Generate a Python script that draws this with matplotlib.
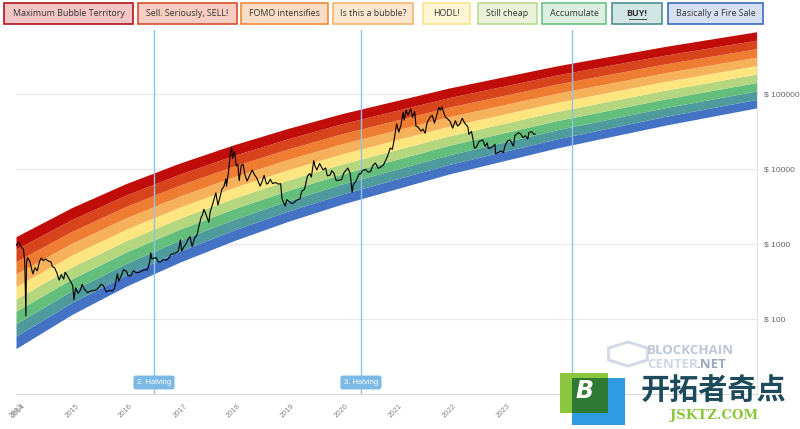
import matplotlib
matplotlib.use("Agg")
import matplotlib.pyplot as plt
from matplotlib.patches import Rectangle, RegularPolygon
import numpy as np
import pandas as pd

# ---- band boundaries (log10 of USD) ----
band_dates = ["2013-12-17", "2015-01-01", "2016-01-01", "2017-01-01", "2018-01-01", "2019-01-01",
              "2020-01-01", "2022-01-01", "2024-01-01", "2026-01-01", "2027-09-15"]
bound_0 = [1.606, 2.062, 2.436, 2.759, 3.044, 3.300, 3.530, 3.935, 4.281, 4.584, 4.815]
bound_1 = [1.772, 2.220, 2.588, 2.906, 3.186, 3.438, 3.664, 4.062, 4.403, 4.701, 4.928]
bound_2 = [1.938, 2.379, 2.740, 3.053, 3.328, 3.576, 3.798, 4.190, 4.524, 4.817, 5.041]
bound_3 = [2.103, 2.537, 2.892, 3.199, 3.470, 3.713, 3.932, 4.317, 4.646, 4.934, 5.154]
bound_4 = [2.269, 2.695, 3.044, 3.346, 3.612, 3.851, 4.066, 4.444, 4.768, 5.051, 5.267]
bound_5 = [2.435, 2.854, 3.197, 3.493, 3.755, 3.989, 4.201, 4.572, 4.890, 5.168, 5.380]
bound_6 = [2.601, 3.012, 3.349, 3.640, 3.897, 4.127, 4.335, 4.699, 5.011, 5.284, 5.492]
bound_7 = [2.767, 3.170, 3.501, 3.787, 4.039, 4.265, 4.469, 4.826, 5.133, 5.401, 5.605]
bound_8 = [2.932, 3.328, 3.653, 3.933, 4.181, 4.402, 4.603, 4.953, 5.255, 5.518, 5.718]
bound_9 = [3.098, 3.487, 3.805, 4.080, 4.323, 4.540, 4.737, 5.081, 5.376, 5.634, 5.831]

# bottom -> top
band_names = ["Basically a Fire Sale", "BUY!", "Accumulate", "Still cheap", "HODL!",
              "Is this a bubble?", "FOMO intensifies", "Sell. Seriously, SELL!",
              "Maximum Bubble Territory"]
band_colors = ["#4472c4", "#4f9a9c", "#63be7b", "#b3d67f", "#fde57f",
               "#f6b25b", "#ef7d31", "#d8441c", "#c00d0a"]

# ---- BTC price (USD) ----
price_dates = [
    "2013-12-17", "2013-12-25", "2014-01-05", "2014-01-15", "2014-01-25", "2014-02-05", "2014-02-14",
    "2014-02-22", "2014-02-26", "2014-03-05", "2014-03-20", "2014-04-10", "2014-04-25", "2014-05-10",
    "2014-05-25", "2014-06-05", "2014-06-20", "2014-07-05", "2014-07-25", "2014-08-10", "2014-08-20",
    "2014-09-05", "2014-09-20", "2014-10-05", "2014-10-20", "2014-11-05", "2014-11-15", "2014-12-01",
    "2014-12-20", "2015-01-05", "2015-01-14", "2015-01-25", "2015-02-10", "2015-02-25", "2015-03-10",
    "2015-03-25", "2015-04-15", "2015-05-05", "2015-05-25", "2015-06-15", "2015-07-05", "2015-07-15",
    "2015-08-01", "2015-08-20", "2015-09-10", "2015-09-30", "2015-10-15", "2015-11-04", "2015-11-12",
    "2015-11-30", "2015-12-15", "2016-01-05", "2016-01-15", "2016-02-01", "2016-02-20", "2016-03-10",
    "2016-04-01", "2016-04-20", "2016-05-10", "2016-05-25", "2016-06-10", "2016-06-17", "2016-06-25",
    "2016-07-09", "2016-07-25", "2016-08-05", "2016-08-20", "2016-09-10", "2016-09-30", "2016-10-15",
    "2016-11-01", "2016-11-20", "2016-12-05", "2016-12-20", "2017-01-04", "2017-01-12", "2017-01-25",
    "2017-02-10", "2017-02-28", "2017-03-10", "2017-03-24", "2017-04-10", "2017-04-28", "2017-05-10",
    "2017-05-25", "2017-06-01", "2017-06-12", "2017-06-25", "2017-07-15", "2017-07-25", "2017-08-10",
    "2017-08-25", "2017-09-01", "2017-09-15", "2017-09-30", "2017-10-12", "2017-10-25", "2017-11-08",
    "2017-11-12", "2017-11-26", "2017-12-07", "2017-12-17", "2017-12-22", "2017-12-28", "2018-01-06",
    "2018-01-17", "2018-01-28", "2018-02-06", "2018-02-20", "2018-03-05", "2018-03-18", "2018-04-01",
    "2018-04-15", "2018-05-05", "2018-05-20", "2018-06-05", "2018-06-28", "2018-07-10", "2018-07-25",
    "2018-08-10", "2018-08-20", "2018-09-05", "2018-09-20", "2018-10-10", "2018-10-30", "2018-11-14",
    "2018-11-20", "2018-11-25", "2018-12-15", "2018-12-25", "2019-01-10", "2019-01-30", "2019-02-15",
    "2019-03-01", "2019-03-25", "2019-04-05", "2019-04-25", "2019-05-14", "2019-05-30", "2019-06-10",
    "2019-06-26", "2019-07-05", "2019-07-17", "2019-08-05", "2019-08-28", "2019-09-15", "2019-09-26",
    "2019-10-15", "2019-10-26", "2019-11-10", "2019-11-25", "2019-12-15", "2020-01-01", "2020-01-15",
    "2020-02-12", "2020-02-28", "2020-03-12", "2020-03-20", "2020-04-05", "2020-04-30", "2020-05-10",
    "2020-05-20", "2020-06-10", "2020-06-28", "2020-07-15", "2020-07-30", "2020-08-17", "2020-09-05",
    "2020-09-25", "2020-10-10", "2020-10-25", "2020-11-10", "2020-11-25", "2020-12-10", "2020-12-20",
    "2021-01-08", "2021-01-22", "2021-02-05", "2021-02-21", "2021-02-28", "2021-03-13", "2021-03-25",
    "2021-04-14", "2021-04-25", "2021-05-10", "2021-05-19", "2021-06-01", "2021-06-22", "2021-07-05",
    "2021-07-20", "2021-08-01", "2021-08-22", "2021-09-06", "2021-09-21", "2021-10-05", "2021-10-20",
    "2021-11-01", "2021-11-10", "2021-11-26", "2021-12-04", "2021-12-20", "2022-01-05", "2022-01-22",
    "2022-02-10", "2022-02-24", "2022-03-10", "2022-03-28", "2022-04-15", "2022-05-05", "2022-05-12",
    "2022-05-30", "2022-06-13", "2022-06-18", "2022-07-01", "2022-07-20", "2022-08-14", "2022-08-30",
    "2022-09-12", "2022-09-21", "2022-10-10", "2022-10-28", "2022-11-05", "2022-11-09", "2022-11-25",
    "2022-12-15", "2022-12-31", "2023-01-14", "2023-01-30", "2023-02-15", "2023-03-10", "2023-03-20",
    "2023-04-14", "2023-04-28", "2023-05-12", "2023-05-30", "2023-06-15", "2023-06-23", "2023-07-13",
    "2023-07-25", "2023-08-05"]
price_usd = [
    950, 1000, 1050, 950, 900, 850, 600,
    110, 550, 660, 590, 400, 480, 440,
    580, 650, 600, 630, 590, 580, 500,
    480, 410, 330, 390, 340, 420, 375,
    320, 280, 180, 260, 220, 240, 290,
    250, 225, 235, 240, 245, 270, 290,
    280, 230, 240, 237, 255, 400, 320,
    375, 455, 430, 380, 375, 440, 415,
    420, 440, 455, 450, 580, 760, 630,
    650, 655, 580, 575, 620, 610, 640,
    730, 740, 765, 800, 1130, 800, 900,
    1000, 1190, 1250, 930, 1200, 1340, 1750,
    2300, 2400, 2900, 2500, 1950, 2700, 3400,
    4300, 4800, 3300, 4300, 5400, 5800, 7400,
    5900, 9300, 16000, 19300, 13800, 15000, 17000,
    11000, 11500, 7000, 11200, 11500, 8200, 6900,
    8000, 9700, 8400, 7600, 5900, 6700, 8200,
    6300, 6400, 7300, 6400, 6600, 6300, 6350,
    4600, 3900, 3200, 3900, 3700, 3450, 3600,
    3820, 4000, 5000, 5400, 8000, 8700, 7800,
    12900, 10900, 9700, 11800, 9700, 10300, 8100,
    8300, 9500, 8800, 7000, 7100, 7200, 8800,
    10300, 8700, 4900, 6200, 6800, 8700, 8600,
    9500, 9900, 9100, 9200, 11100, 12000, 10200,
    10700, 11300, 13000, 15300, 19000, 18300, 23500,
    40000, 31000, 38000, 57000, 45000, 61000, 52000,
    63500, 49000, 58000, 37000, 36500, 32000, 34000,
    30000, 41000, 49000, 52000, 41000, 51000, 66000,
    61000, 67500, 54000, 49000, 46500, 43000, 35000,
    44000, 37500, 39000, 47500, 40500, 36500, 29000,
    31700, 22500, 19000, 19300, 23300, 24400, 20000,
    22400, 18800, 19200, 20600, 21300, 16000, 16500,
    17400, 16500, 20900, 23800, 24300, 20200, 28000,
    30500, 29300, 26300, 27700, 25100, 30600, 31400,
    29200, 29100]

halving_dates = ["2016-07-09", "2020-05-11", "2024-04-10"]
halving_labels = ["2. Halving", "3. Halving", None]  # the third tag sits under the watermark

year_ticks = ["2013-12-17", "2014-01-01", "2015-01-01", "2016-01-01", "2017-01-01", "2018-01-01",
              "2019-01-01", "2020-01-01", "2021-01-01", "2022-01-01", "2023-01-01"]
year_labels = ["2013", "2014", "2015", "2016", "2017", "2018", "2019", "2020", "2021", "2022", "2023"]

price_ticks = [100, 1000, 10000, 100000]

W, H = 800, 429
fig = plt.figure(figsize=(8, 4.29), dpi=100)
ax = fig.add_axes([16 / W, 1 - 394 / H, (757 - 16) / W, (394 - 30) / H])

bd = pd.to_datetime(band_dates)
bounds = [bound_0, bound_1, bound_2, bound_3, bound_4, bound_5, bound_6, bound_7, bound_8, bound_9]
for i in range(9):
    ax.fill_between(bd, 10 ** np.array(bounds[i]), 10 ** np.array(bounds[i + 1]),
                    color=band_colors[i], lw=0, zorder=2)

ax.plot(pd.to_datetime(price_dates), price_usd, color="black", lw=0.8, zorder=4)

for d, lab in zip(halving_dates, halving_labels):
    dt = pd.to_datetime(d)
    ax.axvline(dt, color="#8ec2ea", lw=1.0, zorder=3)
    if lab:
        ax.text(dt, 0.0316, lab, transform=ax.get_xaxis_transform(), ha="center", va="center",
                fontsize=5.5, color="white", family="Liberation Sans", zorder=5,
                bbox=dict(boxstyle="round,pad=0.45,rounding_size=0.3", fc="#7db9e6", ec="none"))

ax.set_yscale("log")
ax.set_ylim(10, 10 ** 5.853)
ax.set_xlim(pd.to_datetime("2013-12-17"), pd.to_datetime("2027-09-15"))
ax.set_yticks(price_ticks)
ax.set_yticklabels(["$ %d" % v for v in price_ticks])
ax.yaxis.set_minor_locator(matplotlib.ticker.NullLocator())
ax.yaxis.tick_right()
ax.tick_params(axis="y", length=0, pad=5, labelsize=6, labelcolor="#666666")
ax.set_xticks(pd.to_datetime(year_ticks))
ax.set_xticklabels(year_labels, rotation=45, ha="center")
ax.tick_params(axis="x", length=0, pad=6, labelsize=5.5, labelcolor="#888888")
for t in ax.get_xticklabels() + ax.get_yticklabels():
    t.set_family("Liberation Sans")
ax.grid(axis="y", color="#e9e9e9", lw=0.8, zorder=0)
for s in ["top", "left"]:
    ax.spines[s].set_visible(False)
ax.spines["bottom"].set_color("#d9d9d9")
ax.spines["right"].set_color("#e3e3e3")
ax.set_facecolor("white")

# ---- legend boxes across the top ----
box_x = [(4, 133), (138, 237), (241, 328), (333, 413), (423, 470), (478, 537),
         (542, 606), (612, 662), (668, 763)]
box_fill = ["#f3c5c6", "#f6cdc0", "#fbdcc5", "#fde8cf", "#fff6d6", "#eaf3d9",
            "#dcefe0", "#d3e6e6", "#d8e1f3"]
box_edge = ["#b3141c", "#d5502c", "#ef8a3c", "#f5b56c", "#fbe38c", "#bcd98f",
            "#6cc287", "#4f8f8f", "#3c6cc2"]
legend_names = band_names[::-1]
for (x0, x1), fc, ec, name in zip(box_x, box_fill, box_edge, legend_names):
    fig.add_artist(Rectangle((x0 / W, 1 - 24 / H), (x1 - x0) / W, 21 / H,
                             transform=fig.transFigure, fc=fc, ec=ec, lw=1.2))
    bold = name == "BUY!"
    fig.text((x0 + x1) / 2 / W, 1 - 13.5 / H, name, ha="center", va="center",
             fontsize=6.4, family="Open Sans", color="#333333",
             fontweight="bold" if bold else "normal")
    if bold:
        fig.add_artist(plt.Line2D([(x0 + x1) / 2 / W - 8.5 / W, (x0 + x1) / 2 / W + 8.5 / W],
                                  [1 - 18.5 / H, 1 - 18.5 / H], color="#333333", lw=0.6,
                                  transform=fig.transFigure))

# ---- watermarks ----
fig.add_artist(RegularPolygon((628 / W, 1 - 354 / H), 6, radius=0.028, orientation=0,
                              transform=fig.transFigure, fc="none", ec="#d3dae6", lw=2.2))
fig.text(647 / W, 1 - 351 / H, "BLOCKCHAIN", fontsize=9.5, fontweight="bold",
         family="Open Sans", color="#bcc6d7", va="center")
fig.text(647 / W, 1 - 364 / H, "CENTER", fontsize=9.5, fontweight="bold",
         family="Open Sans", color="#cfd7e3", va="center")
fig.text(696 / W, 1 - 364 / H, ".NET", fontsize=9.5, fontweight="bold",
         family="Open Sans", color="#9ca8bb", va="center")

fig.add_artist(Rectangle((572 / W, 1 - 425 / H), 53 / W, 47 / H, transform=fig.transFigure,
                         fc="#2f9be3", ec="none"))
fig.add_artist(Rectangle((560 / W, 1 - 413 / H), 48 / W, 40 / H, transform=fig.transFigure,
                         fc="#8cc63f", ec="none"))
fig.add_artist(Rectangle((572 / W, 1 - 413 / H), 36 / W, 35 / H, transform=fig.transFigure,
                         fc="#2f7a33", ec="none"))
fig.text(584 / W, 1 - 391 / H, "B", fontsize=17, fontweight="bold", style="italic",
         family="DejaVu Sans", color="white", ha="center", va="center")
fig.text(714 / W, 1 - 391 / H, "开拓者奇点", fontsize=21, fontweight="bold",
         family=["Noto Sans CJK SC", "DejaVu Sans"], color="#1d4b5c", ha="center", va="center")
fig.text(714 / W, 1 - 416 / H, "JSKTZ.COM", fontsize=9.5, fontweight="bold",
         family="DejaVu Serif", color="#8cc63f", ha="center", va="center")

fig.savefig("out.png", dpi=100)
